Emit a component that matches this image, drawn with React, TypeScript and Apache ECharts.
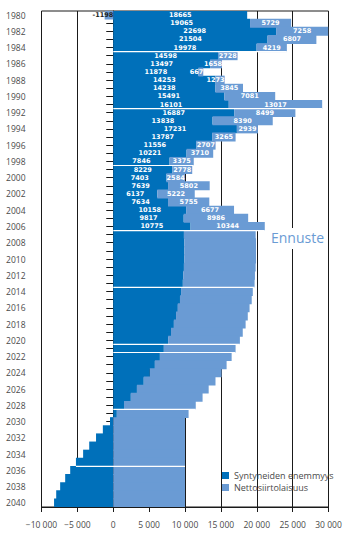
import React, { useEffect, useRef } from 'react';
import * as echarts from 'echarts';

const years = [
  '1980', '1981', '1982', '1983', '1984', '1985', '1986', '1987', '1988', '1989',
  '1990', '1991', '1992', '1993', '1994', '1995', '1996', '1997', '1998', '1999',
  '2000', '2001', '2002', '2003', '2004', '2005', '2006', '2007', '2008', '2009',
  '2010', '2011', '2012', '2013', '2014', '2015', '2016', '2017', '2018', '2019',
  '2020', '2021', '2022', '2023', '2024', '2025', '2026', '2027', '2028', '2029',
  '2030', '2031', '2032', '2033', '2034', '2035', '2036', '2037', '2038', '2039',
  '2040',
];

// Syntyneiden enemmyys (natural increase)
const naturalIncrease = [
  18665, 19065, 22698, 21504, 19978, 14598, 13497, 11878, 14253, 14238,
  15491, 16101, 16887, 13838, 17231, 13787, 11556, 10221, 7846, 8229,
  7403, 7639, 6137, 7634, 10158, 9817, 10775, 9850, 9900, 9900,
  9900, 9850, 9750, 9700, 9450, 9300, 9000, 8750, 8450, 8050,
  7650, 7050, 6500, 5800, 5100, 4250, 3300, 2450, 1500, 500,
  -450, -1450, -2400, -3350, -4200, -5200, -6000, -6700, -7400, -7950,
  -8250,
];

// Nettosiirtolaisuus (net migration)
const netMigration = [
  -1198, 5729, 7258, 6807, 4219, 2728, 1658, 667, 1273, 3845,
  7081, 13017, 8499, 8390, 2939, 3265, 2707, 3710, 3375, 2778,
  2584, 5802, 5222, 5755, 6677, 8986, 10344, 10000, 10000, 10000,
  10000, 10000, 10000, 10000, 10000, 10000, 10000, 10000, 10000, 10000,
  10000, 10000, 10000, 10000, 10000, 10000, 10000, 10000, 10000, 10000,
  10000, 10000, 10000, 10000, 10000, 10000, 10000, 10000, 10000, 10000,
  10000,
];

const lastLabelledYear = '2006';
const separatorYears = ['1984', '1991', '1998', '2006', '2013', '2020', '2021', '2028', '2035'];

const seriesNames = ['Syntyneiden enemmyys', 'Nettosiirtolaisuus'];
const forecastLabel = 'Ennuste';

const DARK = '#0070ba';
const LIGHT = '#6a9bd4';
const AXIS = '#1a1a1a';
const TEXT = '#4a4a4a';

function fmtTick(v: number): string {
  if (v === 0) return '0';
  const s = String(Math.abs(v)).replace(/\B(?=(\d{3})+(?!\d))/g, ' ');
  return (v < 0 ? '\u2212' : '') + s;
}

export default function App() {
  const ref = useRef<HTMLDivElement>(null);

  useEffect(() => {
    if (!ref.current) return;
    const chart = echarts.init(ref.current, undefined, { renderer: 'svg' });
    const lastIdx = years.indexOf(lastLabelledYear);

    const labelFormatter = (p: any) => (p.dataIndex <= lastIdx ? String(p.value) : '');

    // narrow historical bars: label pinned to the bar's inner end
    const lightData = netMigration.map((v, i) => {
      if (i > lastIdx || Math.abs(v) >= 2000) return v;
      return {
        value: v,
        label: {
          position: 'insideRight',
          distance: 0,
          color: v < 0 ? '#222' : '#fff',
        },
      };
    });

    const sepData = separatorYears.map((y) => {
      const i = years.indexOf(y);
      const parts = [naturalIncrease[i], netMigration[i]];
      const neg = parts.filter((v) => v < 0).reduce((a, b) => a + b, 0);
      const pos = parts.filter((v) => v > 0).reduce((a, b) => a + b, 0);
      return [y, neg, pos];
    });

    const labelStyle = {
      show: true,
      position: 'inside',
      color: '#fff',
      fontSize: 6.5,
      fontWeight: 'bold',
      fontFamily: '"DejaVu Sans", sans-serif',
      formatter: labelFormatter,
    };

    chart.setOption({
      animation: false,
      textStyle: { fontFamily: '"Open Sans", sans-serif' },
      grid: {
        left: 41.5,
        right: 24.5,
        top: 11,
        bottom: 32,
        show: true,
        borderColor: AXIS,
        borderWidth: 1,
        backgroundColor: 'transparent',
        containLabel: false,
      },
      legend: {
        data: seriesNames,
        orient: 'vertical',
        left: 217,
        top: 466,
        itemWidth: 7,
        itemHeight: 7,
        itemGap: 3,
        icon: 'rect',
        textStyle: {
          color: TEXT,
          fontSize: 9,
          lineHeight: 9,
          fontFamily: '"Open Sans", sans-serif',
        },
      },
      xAxis: {
        type: 'value',
        min: -10000,
        max: 30000,
        interval: 5000,
        axisLine: { show: true, lineStyle: { color: AXIS, width: 1 } },
        axisTick: { show: true, length: 5, lineStyle: { color: AXIS } },
        splitLine: { show: true, lineStyle: { color: AXIS, width: 1 } },
        axisLabel: {
          color: TEXT,
          fontSize: 8.5,
          margin: 13,
          formatter: (v: number) => fmtTick(v),
        },
      },
      yAxis: {
        type: 'category',
        data: years,
        inverse: true,
        axisLine: { show: true, lineStyle: { color: AXIS, width: 1 } },
        axisTick: { show: true, alignWithLabel: true, interval: 0, length: 7, lineStyle: { color: AXIS } },
        axisLabel: { color: TEXT, fontSize: 8.5, interval: 1, margin: 16 },
        splitLine: { show: false },
      },
      series: [
        {
          name: seriesNames[0],
          type: 'bar',
          stack: 'total',
          barWidth: '110%',
          itemStyle: { color: DARK },
          label: labelStyle,
          data: naturalIncrease,
          z: 2,
        },
        {
          name: seriesNames[1],
          type: 'bar',
          stack: 'total',
          barWidth: '110%',
          itemStyle: { color: LIGHT },
          label: labelStyle,
          data: lightData,
          z: 2,
        },
        {
          name: 'separators',
          type: 'custom',
          z: 3,
          silent: true,
          encode: { x: [1, 2], y: 0 },
          data: sepData,
          renderItem: (params: any, api: any) => {
            const yIdx = api.value(0);
            const p0 = api.coord([api.value(1), yIdx]);
            const p1 = api.coord([api.value(2), yIdx]);
            const h = api.size([0, 1])[1];
            const y = p0[1] + h / 2;
            return {
              type: 'line',
              shape: { x1: p0[0], y1: y, x2: p1[0], y2: y },
              style: { stroke: '#ffffff', lineWidth: 1.2 },
            };
          },
        },
      ],
      graphic: [
        {
          type: 'rect',
          shape: { x: 265, y: 228, width: 60, height: 21 },
          style: { fill: '#ffffff' },
          z: 10,
        },
        {
          type: 'text',
          x: 271,
          y: 237,
          z: 11,
          style: {
            text: forecastLabel,
            fill: LIGHT,
            fontSize: 14,
            fontFamily: '"Open Sans", sans-serif',
            verticalAlign: 'middle',
          },
        },
      ],
    });

    return () => chart.dispose();
  }, []);

  return (
    <div
      ref={ref}
      style={{ position: 'fixed', left: 0, top: 0, width: 353, height: 539, background: '#fff' }}
    />
  );
}
